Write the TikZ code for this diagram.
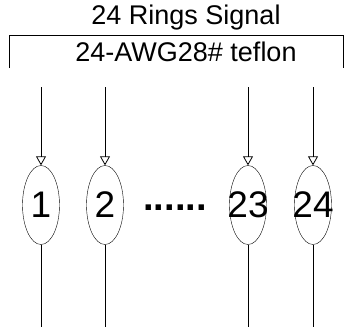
\documentclass[tikz,border=0pt]{standalone}
\usepackage{fontspec}
\setmainfont{Liberation Sans}
\usetikzlibrary{arrows.meta, shapes.geometric}
\tikzset{
    ring/.style={draw, ellipse, minimum width=37pt, minimum height=79pt, inner sep=0pt},
    ringnum/.style={font=\fontsize{37}{39}\selectfont, inner sep=0pt},
    wire/.style={line width=0.8pt},
    feed/.style={wire, -{Triangle[open, length=9pt, width=10pt]}}
}

\begin{document}
\begin{tikzpicture}[x=1pt, y=-1pt]
    \useasboundingbox (0,0) rectangle (347,327);
    % Title and cable
    \node[font=\fontsize{27}{29}\selectfont] (title) at (186,18) {24 Rings Signal};
    \draw[wire] (9,68) -- (9,35) -- (343,35) -- (343,68);
    \node[font=\fontsize{27}{29}\selectfont] (cable) at (186,52) {24-AWG28\# teflon};

    % Rings
    \node[ring, label={[ringnum]center:1}] (r1) at (41,205) {};
    \node[ring, label={[ringnum]center:2}] (r2) at (105,205) {};
    \node[ring, label={[ringnum]center:23}] (r23) at (248,205) {};
    \node[ring, label={[ringnum]center:24}] (r24) at (313,205) {};
    \node[font=\bfseries\fontsize{38}{40}\selectfont] (dots) at (175,208) {......};

    % Wires
    \foreach \n/\x in {1/41, 2/105, 23/248, 24/313} {
        \coordinate (t\n) at (\x,87);
        \coordinate (b\n) at (\x,327);
        \draw[feed] (t\n) -- (r\n);
        \draw[wire] (r\n) -- (b\n);
    }
\end{tikzpicture}
\end{document}
